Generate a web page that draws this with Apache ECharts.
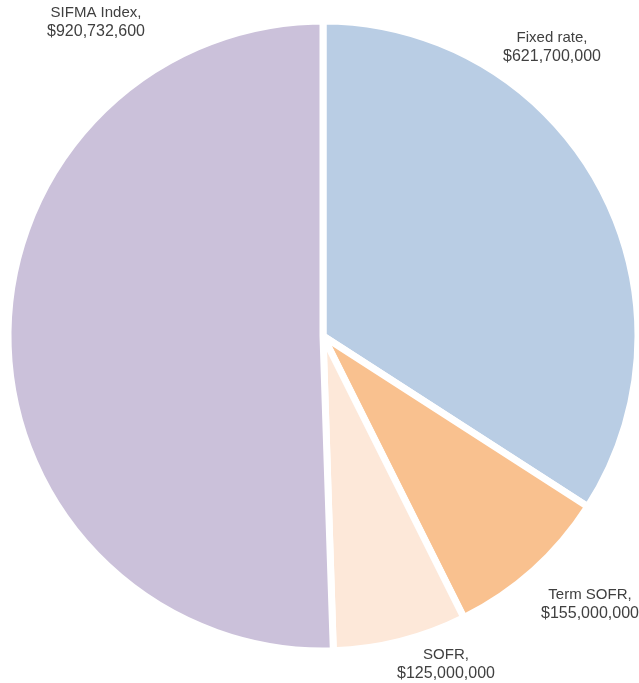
<!DOCTYPE html>
<html>
<head>
<meta charset="utf-8">
<script src="https://cdn.jsdelivr.net/npm/echarts@6/dist/echarts.min.js"></script>
<style>
  html, body { margin: 0; padding: 0; background: #ffffff; }
  #chart { width: 639px; height: 683px; }
</style>
</head>
<body>
<div id="chart"></div>
<script>
// Debt outstanding by interest-rate type
const categories = ['Fixed rate', 'Term SOFR', 'SOFR', 'SIFMA Index'];
const amounts = [621700000, 155000000, 125000000, 920732600];
const sliceColors = ['#b9cde4', '#f9c18f', '#fde8d9', '#cbc1da'];
// Label anchor points (pixels) for each slice's caption
const labelAnchors = [[552, 47], [590, 604], [446, 664], [96, 22]];

const fmt = v => '$' + v.toLocaleString('en-US');

const chart = echarts.init(document.getElementById('chart'), null, { renderer: 'canvas' });

const textBase = {
  color: '#404040',
  fontFamily: 'Liberation Sans, Arial, sans-serif',
  lineHeight: 19,
  align: 'center'
};

chart.setOption({
  animation: false,
  backgroundColor: '#ffffff',
  series: [{
    type: 'pie',
    center: [323, 336],
    radius: [0, 315],
    startAngle: 90,
    clockwise: true,
    avoidLabelOverlap: false,
    itemStyle: { borderColor: '#ffffff', borderWidth: 7 },
    label: {
      show: true,
      position: 'outside',
      formatter: p => '{n|' + p.name + ',}\n{v|' + fmt(p.value) + '}',
      align: 'center',
      rich: {
        n: Object.assign({ fontSize: 15 }, textBase),
        v: Object.assign({ fontSize: 16 }, textBase)
      }
    },
    labelLine: { show: false },
    labelLayout: p => ({
      x: labelAnchors[p.dataIndex][0],
      y: labelAnchors[p.dataIndex][1],
      align: 'center',
      verticalAlign: 'middle'
    }),
    emphasis: { disabled: true },
    data: categories.map((c, i) => ({
      name: c,
      value: amounts[i],
      itemStyle: { color: sliceColors[i] }
    }))
  }]
});
</script>
</body>
</html>
